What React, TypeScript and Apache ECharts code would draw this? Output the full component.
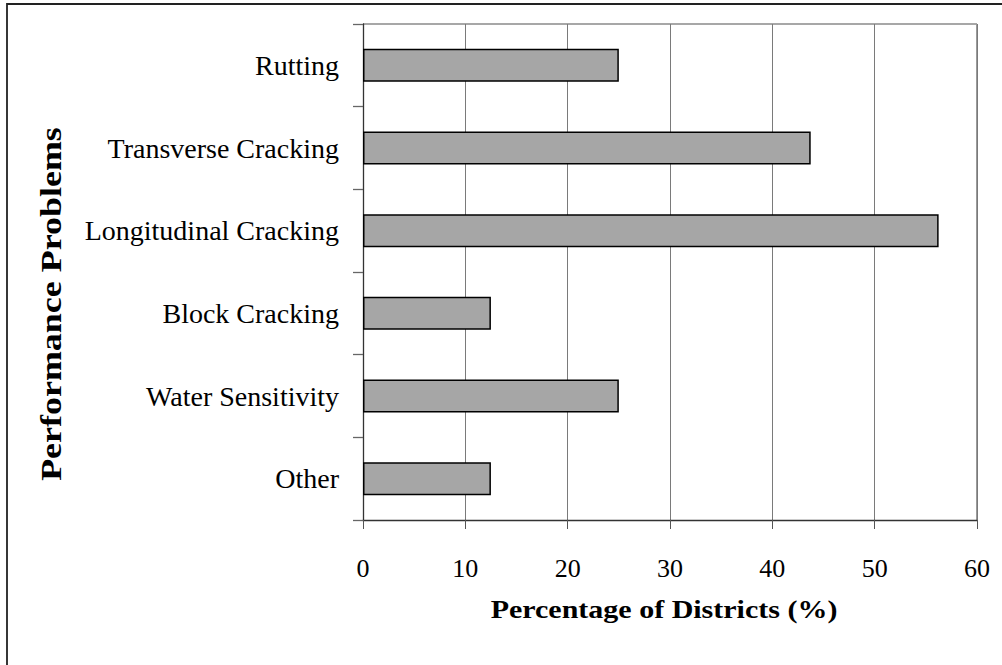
import React, { useEffect, useRef } from "react";
import * as echarts from "echarts";

const categories: string[] = [
  "Rutting",
  "Transverse Cracking",
  "Longitudinal Cracking",
  "Block Cracking",
  "Water Sensitivity",
  "Other",
];
const percentValues: number[] = [25, 43.75, 56.25, 12.5, 25, 12.5];
const xTicks: number[] = [0, 10, 20, 30, 40, 50, 60];

const xTitle = "Percentage of Districts (%)";
const yTitle = "Performance Problems";

const FONT = "'Liberation Serif', 'Times New Roman', serif";

export default function App() {
  const ref = useRef<HTMLDivElement>(null);
  useEffect(() => {
    if (!ref.current) return;
    const chart = echarts.init(ref.current, undefined, { renderer: "svg" });
    chart.setOption({
      animation: false,
      backgroundColor: "#ffffff",
      grid: { left: 363, top: 24, right: 25, bottom: 145, containLabel: false },
      xAxis: {
        type: "value",
        min: xTicks[0],
        max: xTicks[xTicks.length - 1],
        interval: 10,
        axisLine: { show: true, lineStyle: { color: "#333333", width: 1.3 } },
        axisTick: { show: true, inside: false, length: 9, lineStyle: { color: "#555555", width: 1 } },
        axisLabel: { margin: 35, color: "#000000", fontFamily: FONT, fontSize: 26 },
        splitLine: { show: true, lineStyle: { color: "#7a7a7a", width: 1 } },
      },
      yAxis: {
        type: "category",
        data: categories,
        inverse: true,
        axisLine: { show: true, onZero: false, lineStyle: { color: "#333333", width: 1.3 } },
        axisTick: { show: true, inside: false, length: 10, lineStyle: { color: "#666666", width: 1.3 } },
        axisLabel: { margin: 24, color: "#000000", fontFamily: FONT, fontSize: 28 },
        splitLine: { show: false },
      },
      series: [
        {
          type: "bar",
          data: percentValues,
          barWidth: "40%",
          itemStyle: { color: "#a6a6a6", borderColor: "#000000", borderWidth: 1.5 },
        },
      ],
      graphic: [
        {
          type: "rect",
          shape: { x: 7, y: 4, width: 1100, height: 800 },
          style: { fill: "none", stroke: "#222222", lineWidth: 1.8 },
          silent: true,
        },
        {
          type: "line",
          shape: { x1: 363, y1: 24, x2: 977, y2: 24 },
          style: { stroke: "#8a8a8a", lineWidth: 1.3 },
          silent: true,
        },
        {
          type: "line",
          shape: { x1: 977, y1: 24, x2: 977, y2: 520 },
          style: { stroke: "#9a9a9a", lineWidth: 2 },
          silent: true,
        },
        {
          type: "text",
          x: 664,
          y: 609,
          scaleX: 1.2,
          style: {
            text: xTitle,
            fontFamily: FONT,
            fontSize: 25,
            fontWeight: "bold",
            fill: "#000000",
            align: "center",
            verticalAlign: "middle",
          },
        },
        {
          type: "text",
          x: 51,
          y: 304,
          rotation: Math.PI / 2,
          scaleX: 1.24,
          style: {
            text: yTitle,
            fontFamily: FONT,
            fontSize: 29,
            fontWeight: "bold",
            fill: "#000000",
            align: "center",
            verticalAlign: "middle",
          },
        },
      ],
    });
    return () => chart.dispose();
  }, []);
  return (
    <div
      ref={ref}
      style={{ position: "fixed", left: 0, top: 0, width: 1002, height: 665 }}
    />
  );
}
